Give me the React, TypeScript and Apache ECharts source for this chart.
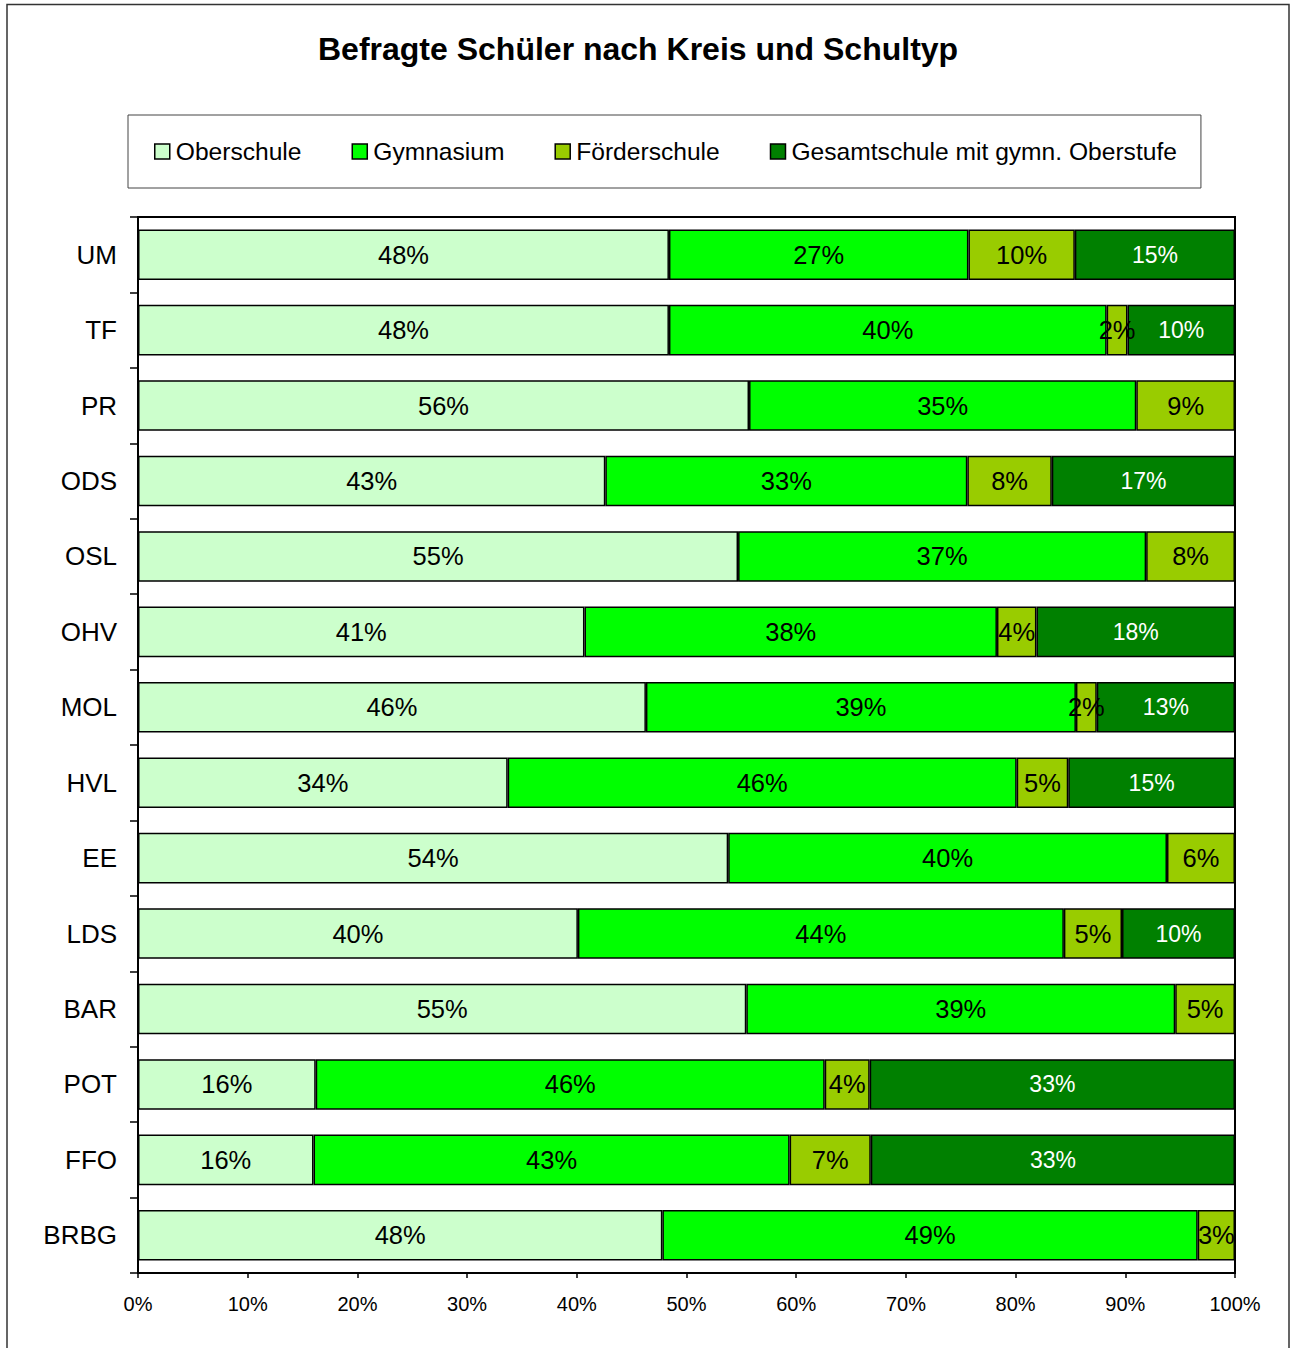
import React, { useEffect, useRef } from "react";
import * as echarts from "echarts";

const categories = ["UM", "TF", "PR", "ODS", "OSL", "OHV", "MOL", "HVL", "EE", "LDS", "BAR", "POT", "FFO", "BRBG"];
const oberschule = [48.4, 48.4, 55.7, 42.6, 54.7, 40.7, 46.3, 33.7, 53.8, 40.1, 55.45, 16.2, 16.0, 47.8];
const gymnasium = [27.3, 39.9, 35.3, 33.0, 37.2, 37.6, 39.2, 46.4, 40.0, 44.3, 39.1, 46.4, 43.4, 48.8];
const foerderschule = [9.7, 1.9, 9.0, 7.7, 8.1, 3.6, 1.9, 4.7, 6.2, 5.3, 5.45, 4.1, 7.4, 3.4];
const gesamtschule = [14.6, 9.8, 0, 16.7, 0, 18.1, 12.6, 15.2, 0, 10.3, 0, 33.3, 33.2, 0];
const xTicks = [0, 10, 20, 30, 40, 50, 60, 70, 80, 90, 100];

const FONT = 'Arial, "Liberation Sans", sans-serif';

export default function App() {
  const ref = useRef<HTMLDivElement>(null);
  useEffect(() => {
    if (!ref.current) return;
    const chart = echarts.init(ref.current, null, { renderer: "svg" });
    const mk = (name: string, data: number[], color: string, labelColor: string, size: number) => ({
      name,
      type: "bar",
      stack: "total",
      data,
      barCategoryGap: "33%",
      itemStyle: { color, borderColor: "#000", borderWidth: 1.5 },
      label: {
        show: true,
        position: "inside",
        color: labelColor,
        fontSize: size,
        fontFamily: FONT,
        formatter: (p: any) => (p.value > 0 ? Math.round(p.value) + "%" : ""),
      },
    });
    chart.setOption({
      animation: false,
      backgroundColor: "#fff",
      title: {
        text: "Befragte Schüler nach Kreis und Schultyp",
        left: 313,
        top: 28,
        textStyle: { fontSize: 32, fontWeight: "bold", fontFamily: FONT, color: "#000" },
      },
      legend: {
        left: 128,
        top: 115,
        padding: [24, 24, 24, 26],
        borderColor: "#444",
        borderWidth: 1,
        itemWidth: 15,
        itemHeight: 15,
        itemGap: 50,
        icon: "rect",
        textStyle: { fontSize: 24.6, fontFamily: FONT, color: "#000", padding: [0, 0, 0, 1] },
        itemStyle: { borderColor: "#000", borderWidth: 1.5 },
        data: ["Oberschule", "Gymnasium", "Förderschule", "Gesamtschule mit gymn. Oberstufe"],
      },
      grid: {
        left: 138,
        right: 55,
        top: 217,
        bottom: 75,
        show: true,
        borderColor: "#000",
        borderWidth: 2,
        backgroundColor: "transparent",
      },
      xAxis: {
        type: "value",
        min: xTicks[0],
        max: xTicks[xTicks.length - 1],
        interval: 10,
        axisLine: { show: true, lineStyle: { color: "#000", width: 2 } },
        axisTick: { show: true, length: 5, lineStyle: { color: "#000", width: 1.5 } },
        splitLine: { show: false },
        axisLabel: { formatter: "{value}%", fontSize: 20, fontFamily: FONT, color: "#000", margin: 21 },
      },
      yAxis: {
        type: "category",
        inverse: true,
        data: categories,
        axisLine: { show: true, lineStyle: { color: "#000", width: 2 } },
        axisTick: { show: true, length: 8, lineStyle: { color: "#000", width: 1.5 } },
        axisLabel: { fontSize: 26, fontFamily: FONT, color: "#000", margin: 21 },
      },
      graphic: [
        {
          type: "rect",
          shape: { x: 7, y: 4.5, width: 1282, height: 1360 },
          style: { fill: "none", stroke: "#333", lineWidth: 1.5 },
          silent: true,
        },
      ],
      series: [
        mk("Oberschule", oberschule, "#CCFFCC", "#000", 25.5),
        mk("Gymnasium", gymnasium, "#00FF00", "#000", 25.5),
        mk("Förderschule", foerderschule, "#99CC00", "#000", 25.5),
        mk("Gesamtschule mit gymn. Oberstufe", gesamtschule, "#008000", "#fff", 23),
      ],
    });
    return () => chart.dispose();
  }, []);
  return <div ref={ref} style={{ position: "fixed", left: 0, top: 0, width: 1290, height: 1348 }} />;
}
